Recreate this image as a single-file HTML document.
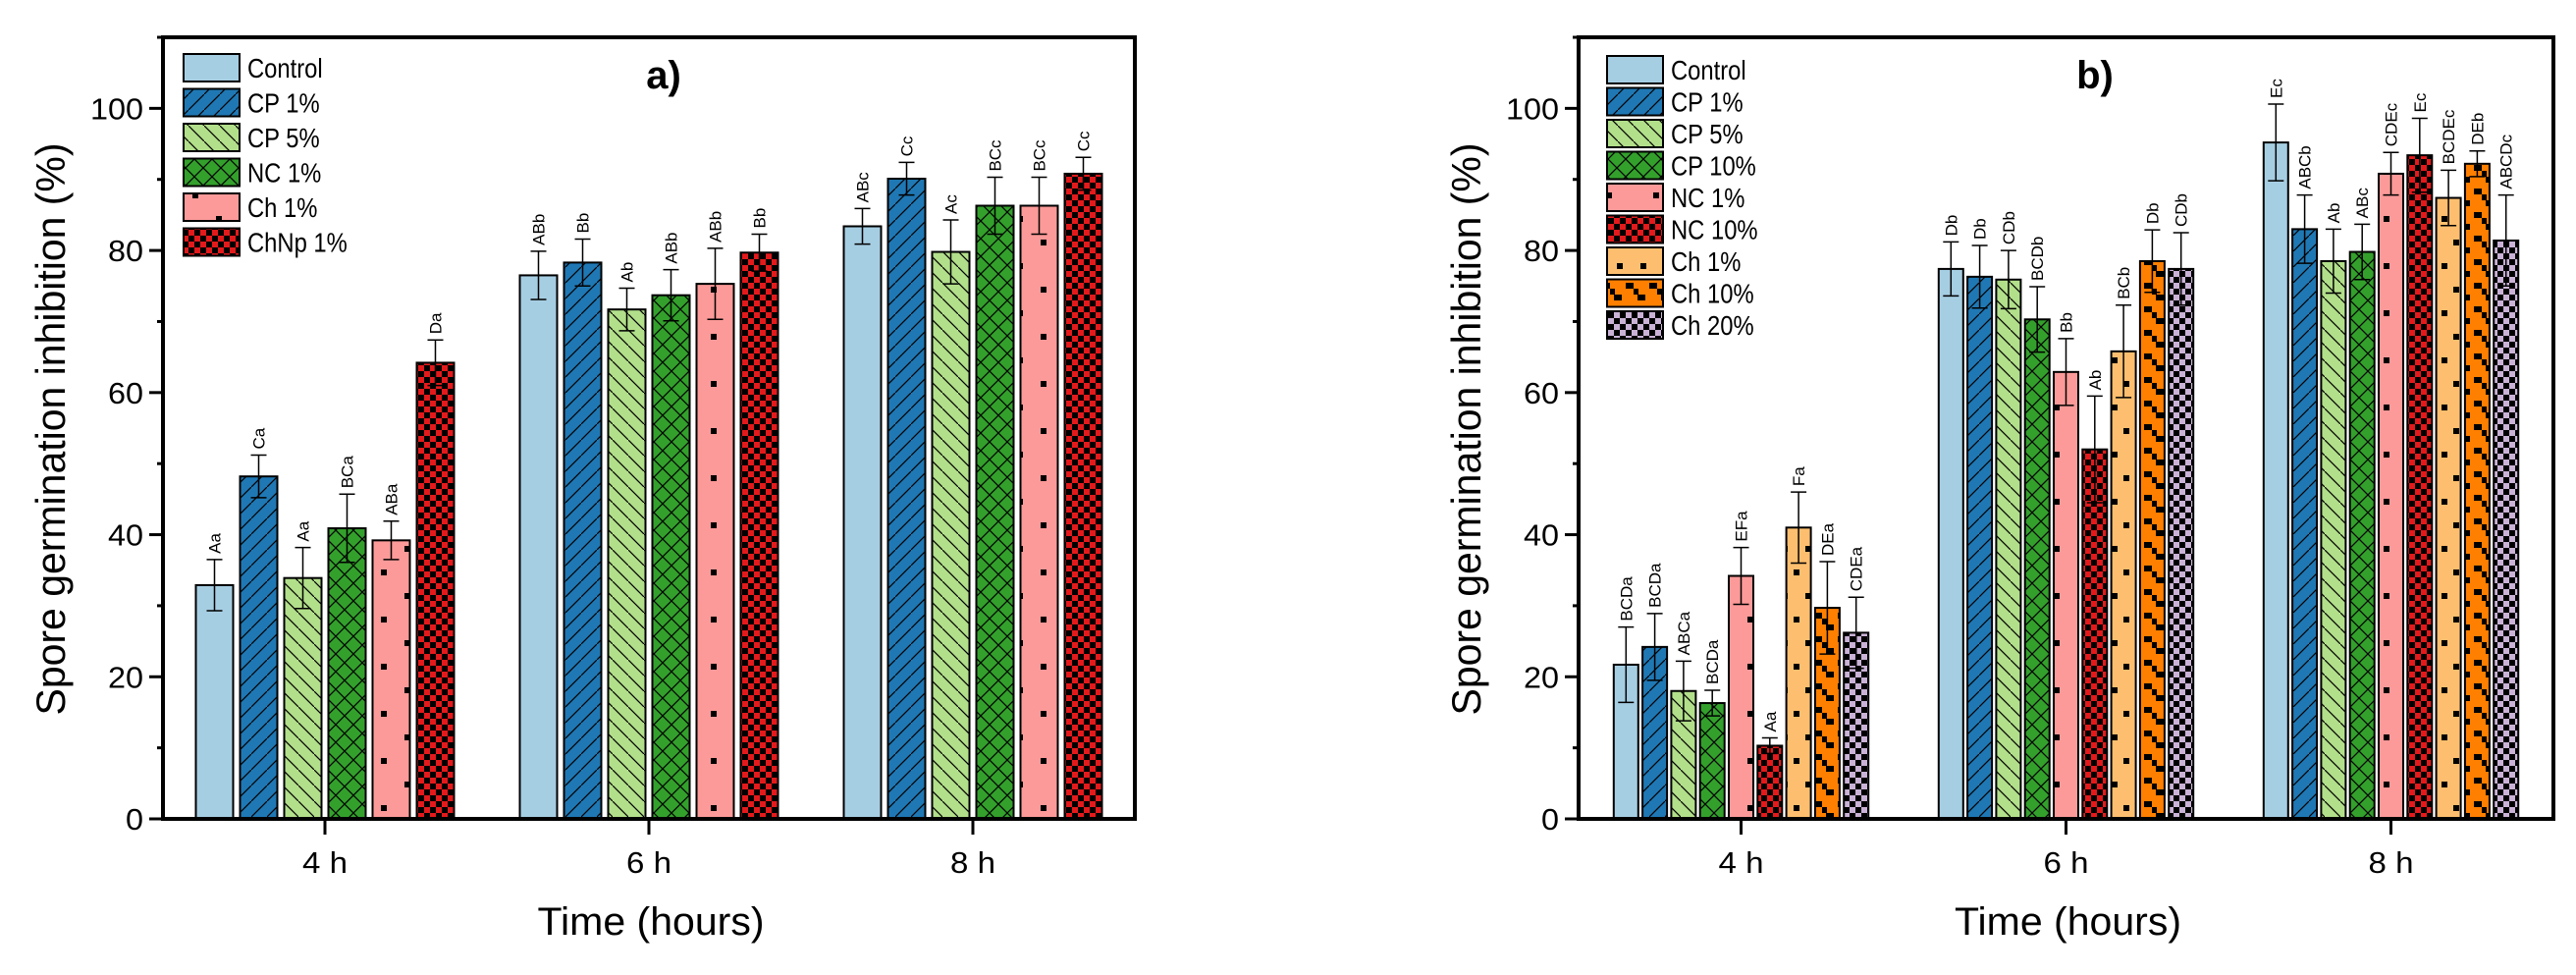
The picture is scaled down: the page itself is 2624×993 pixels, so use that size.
<!DOCTYPE html>
<html><head><meta charset="utf-8"><style>
html,body{margin:0;padding:0;background:#fff;}
svg{display:block;font-family:"Liberation Sans",sans-serif;}
</style></head><body>
<svg id="chart" width="2624" height="993" viewBox="0 0 2624 993" xmlns="http://www.w3.org/2000/svg">
<defs>
<pattern id="p-fwd" patternUnits="userSpaceOnUse" width="16" height="16"><rect width="16" height="16" fill="#1f78b4"/><path d="M0 16 L16 0" stroke="#000" stroke-width="1.2"/></pattern>
<pattern id="p-back" patternUnits="userSpaceOnUse" width="16" height="16"><rect width="16" height="16" fill="#b2df8a"/><path d="M0 0 L16 16" stroke="#000" stroke-width="1.2"/></pattern>
<pattern id="p-cross" patternUnits="userSpaceOnUse" width="18" height="18"><rect width="18" height="18" fill="#33a02c"/><path d="M0 0 L18 18 M18 0 L0 18" stroke="#000" stroke-width="1.2"/></pattern>
<pattern id="p-pinkdot" patternUnits="userSpaceOnUse" width="48" height="48"><rect width="48" height="48" fill="#fb9a99"/><rect x="4" y="4" width="6" height="6" fill="#000"/><rect x="28" y="28" width="6" height="6" fill="#000"/></pattern>
<pattern id="p-redcheck" patternUnits="userSpaceOnUse" width="12" height="12"><rect width="12" height="12" fill="#e31a1c"/><rect x="0" y="0" width="6" height="6" fill="#000"/><rect x="6" y="6" width="6" height="6" fill="#000"/></pattern>
<pattern id="p-orgdot" patternUnits="userSpaceOnUse" width="24" height="48"><rect width="24" height="48" fill="#fdbf6f"/><rect x="3" y="4" width="6" height="6" fill="#000"/><rect x="15" y="28" width="6" height="6" fill="#000"/></pattern>
<pattern id="p-orgstep" patternUnits="userSpaceOnUse" width="24" height="24"><rect width="24" height="24" fill="#ff7f00"/><rect x="0" y="0" width="8" height="6" fill="#000"/><rect x="12" y="12" width="8" height="6" fill="#000"/><rect x="8" y="6" width="5" height="6" fill="#000"/></pattern>
<pattern id="p-purcheck" patternUnits="userSpaceOnUse" width="12" height="12"><rect width="12" height="12" fill="#cab2d6"/><rect x="0" y="0" width="6" height="6" fill="#000"/><rect x="6" y="6" width="6" height="6" fill="#000"/></pattern>
</defs>
<g id="panel-a"></g>
<g id="panel-b"></g>
</svg>
<script>
const categories = ["4 h", "6 h", "8 h"];
const yTicks = [0, 20, 40, 60, 80, 100];

const seriesA = ["Control", "CP 1%", "CP 5%", "NC 1%", "Ch 1%", "ChNp 1%"];
const fillsA = ["#a6cee3", "url(#p-fwd)", "url(#p-back)", "url(#p-cross)", "url(#p-pinkdot)", "url(#p-redcheck)"];
const valuesA = [
  [32.9, 76.5, 83.4],
  [48.2, 78.3, 90.1],
  [33.9, 71.7, 79.8],
  [40.9, 73.7, 86.3],
  [39.2, 75.3, 86.3],
  [64.2, 79.7, 90.8]
];
const errorsA = [
  [3.6, 3.4, 2.5],
  [3.0, 3.3, 2.3],
  [4.3, 3.0, 4.5],
  [4.8, 3.6, 4.0],
  [2.7, 5.0, 4.0],
  [3.2, 2.6, 2.3]
];
const lettersA = [
  ["Aa", "ABb", "ABc"],
  ["Ca", "Bb", "Cc"],
  ["Aa", "Ab", "Ac"],
  ["BCa", "ABb", "BCc"],
  ["ABa", "ABb", "BCc"],
  ["Da", "Bb", "Cc"]
];

const seriesB = ["Control", "CP 1%", "CP 5%", "CP 10%", "NC 1%", "NC 10%", "Ch 1%", "Ch 10%", "Ch 20%"];
const fillsB = ["#a6cee3", "url(#p-fwd)", "url(#p-back)", "url(#p-cross)", "url(#p-pinkdot)", "url(#p-redcheck)", "url(#p-orgdot)", "url(#p-orgstep)", "url(#p-purcheck)"];
const valuesB = [
  [21.7, 77.4, 95.2],
  [24.2, 76.3, 83.0],
  [18.0, 75.9, 78.5],
  [16.3, 70.3, 79.8],
  [34.2, 62.9, 90.8],
  [10.3, 52.0, 93.4],
  [41.0, 65.8, 87.4],
  [29.7, 78.5, 92.2],
  [26.2, 77.4, 81.4]
];
const errorsB = [
  [5.3, 3.8, 5.4],
  [4.7, 4.4, 4.8],
  [4.2, 4.1, 4.5],
  [1.8, 4.6, 3.9],
  [4.0, 4.7, 3.0],
  [1.1, 7.5, 5.2],
  [5.0, 6.5, 3.9],
  [6.5, 4.4, 1.8],
  [5.0, 5.1, 6.4]
];
const lettersB = [
  ["BCDa", "Db", "Ec"],
  ["BCDa", "Db", "ABCb"],
  ["ABCa", "CDb", "Ab"],
  ["BCDa", "BCDb", "ABc"],
  ["EFa", "Bb", "CDEc"],
  ["Aa", "Ab", "Ec"],
  ["Fa", "BCb", "BCDEc"],
  ["DEa", "Db", "DEb"],
  ["CDEa", "CDb", "ABCDc"]
];

const NS = "http://www.w3.org/2000/svg";
function mk(parent, tag, attrs, text) {
  const e = document.createElementNS(NS, tag);
  for (const k in attrs) e.setAttribute(k, attrs[k]);
  if (text !== undefined) e.textContent = text;
  parent.appendChild(e);
  return e;
}

function drawPanel(g, cfg) {
  const L = cfg.left, R = cfg.right, T = 38, B = 834;
  const yScale = v => B - (v / 110) * (B - T);
  const xScale = c => L + (c + 0.5) / 3 * (R - L);
  const nS = cfg.series.length;

  // y axis title
  const yt = mk(g, "text", {x: 0, y: 0, "font-size": 42, "text-anchor": "middle", transform: `translate(${L - 100},437) rotate(-90)`, textLength: 583, lengthAdjust: "spacingAndGlyphs"}, "Spore germination inhibition (%)");
  
  
  const xt = mk(g, "text", {x: (L + R) / 2 + 2, y: 952, "font-size": 40, "text-anchor": "middle", textLength: 231, lengthAdjust: "spacingAndGlyphs"}, "Time (hours)");
  
  

  // y ticks
  for (let v = 0; v <= 110; v += 10) {
    const y = yScale(v);
    const major = v % 20 === 0;
    const tk = mk(g, "line", {x1: L - (major ? 14 : 6), x2: L, y1: y, y2: y, stroke: "#000", "stroke-width": 3});
    
    
  }
  yTicks.forEach(v => {
    const s = String(v);
    const t = mk(g, "text", {x: L - 20, y: yScale(v) + 11, "font-size": 31, "text-anchor": "end", textLength: s.length * 18, lengthAdjust: "spacingAndGlyphs"}, s);
    
    
  });
  categories.forEach((c, i) => {
    const x = xScale(i);
    const tk = mk(g, "line", {x1: x, x2: x, y1: B, y2: B + 16, stroke: "#000", "stroke-width": 3});
    
    
    const t = mk(g, "text", {x: x, y: 889, "font-size": 31, "text-anchor": "middle", textLength: 46, lengthAdjust: "spacingAndGlyphs"}, c);
    
    
  });

  // bars
  for (let s = 0; s < nS; s++) {
    for (let c = 0; c < 3; c++) {
      const v = cfg.values[s][c], e = cfg.errors[s][c];
      const cx = xScale(c) + (s - (nS - 1) / 2) * cfg.pitch;
      const y = yScale(v);
      const bar = mk(g, "rect", {x: cx - cfg.bw / 2, y: y, width: cfg.bw, height: B - y, fill: cfg.fills[s], stroke: "#000", "stroke-width": 2});
      
      
      const yh = yScale(v + e), yl = yScale(v - e);
      const eb = mk(g, "path", {d: `M${cx} ${yh} V${yl} M${cx - 8} ${yh} H${cx + 8} M${cx - 8} ${yl} H${cx + 8}`, stroke: "#000", "stroke-width": 1.5, fill: "none"});
      
      
      const lt = mk(g, "text", {x: 0, y: 0, "font-size": 17, transform: `translate(${cx + 6},${yh - 6}) rotate(-90)`}, cfg.letters[s][c]);
      
      
    }
  }

  // frame
  const fr = mk(g, "rect", {x: L, y: T, width: R - L, height: B - T, fill: "none", stroke: "#000", "stroke-width": 4});
  
  

  // legend
  const lg = mk(g, "g", {});
  
  
  cfg.series.forEach((name, i) => {
    const cy = cfg.legY0 + i * cfg.legPitch;
    const sw = mk(lg, "rect", {x: cfg.legX, y: cy - 14, width: 57, height: 28, fill: cfg.fills[i], stroke: "#000", "stroke-width": 2});
    
    
    const t = mk(lg, "text", {x: cfg.legX + 65, y: cy + 10, "font-size": 28, transform: `translate(${(cfg.legX + 65) * 0.15},0) scale(0.85,1)`}, name);
    
    
  });
  const pl = mk(g, "text", {x: cfg.labelX, y: 90, "font-size": 40, "font-weight": "bold", "text-anchor": "middle"}, cfg.label);
  
  
}

drawPanel(document.getElementById('panel-a'), {
  left: 166, right: 1156, series: seriesA, fills: fillsA, values: valuesA, errors: errorsA, letters: lettersA,
  pitch: 45, bw: 38, legX: 187, legY0: 69, legPitch: 35.5, labelX: 676, label: "a)"
});
drawPanel(document.getElementById('panel-b'), {
  left: 1608, right: 2601, series: seriesB, fills: fillsB, values: valuesB, errors: errorsB, letters: lettersB,
  pitch: 29.3, bw: 25, legX: 1637, legY0: 71, legPitch: 32.5, labelX: 2134, label: "b)"
});
</script>
</body></html>
